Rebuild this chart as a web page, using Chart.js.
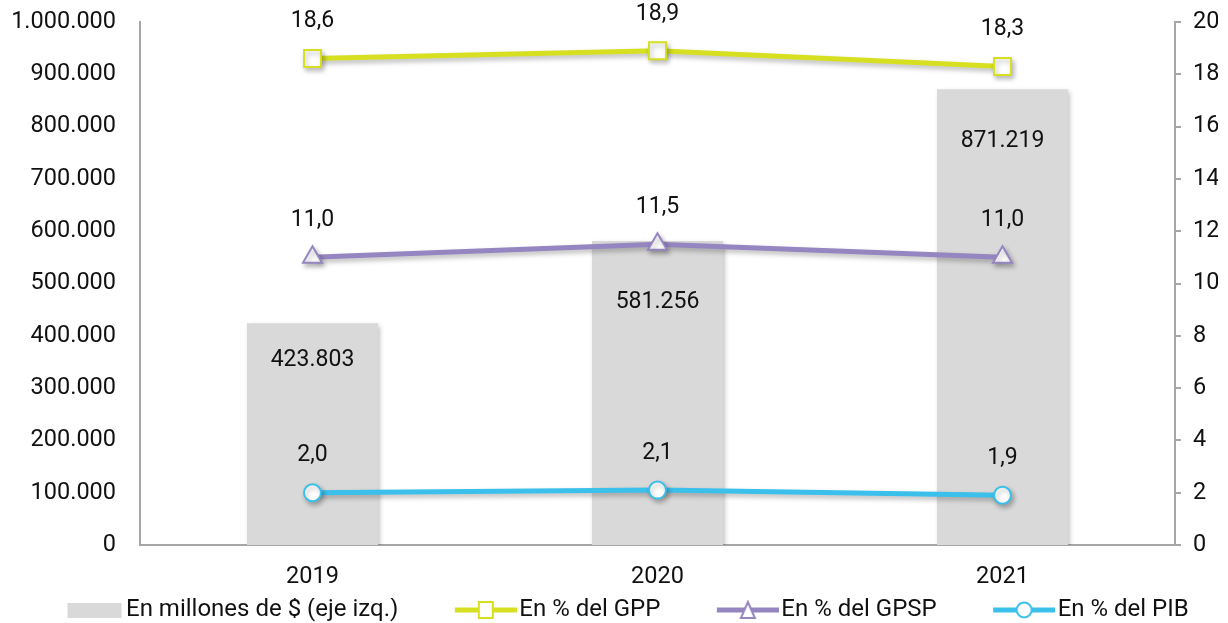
<!DOCTYPE html>
<html>
<head>
<meta charset="utf-8">
<script src="https://cdn.jsdelivr.net/npm/chart.js@4"></script>
<style>
  html, body { margin: 0; padding: 0; background: #fff; }
  #wrap { width: 1228px; height: 623px; position: relative; }
</style>
</head>
<body>
<div id="wrap"><canvas id="chart"></canvas></div>
<script>
  // datos del gráfico
  const years = ["2019", "2020", "2021"];
  const millones = [423803, 581256, 871219];
  const pctGPP = [18.6, 18.9, 18.3];
  const pctGPSP = [11.0, 11.5, 11.0];
  const pctPIB = [2.0, 2.1, 1.9];

  const leftTicks = [0, 100000, 200000, 300000, 400000, 500000, 600000, 700000, 800000, 900000, 1000000];
  const rightTicks = [0, 2, 4, 6, 8, 10, 12, 14, 16, 18, 20];

  const COLOR_BAR = "#d9d9d9";
  const COLOR_GPP = "#d6e021";
  const COLOR_GPSP = "#9585c0";
  const COLOR_PIB = "#3bbfeb";
  const FONT = "Roboto, 'Noto Sans', sans-serif";
  const TEXT = "#111";

  function fmtMiles(v) {
    return String(Math.round(v)).replace(/\B(?=(\d{3})+(?!\d))/g, ".");
  }

  function fmtPct(v) {
    return v.toFixed(1).replace(".", ",");
  }

  // iconos de la leyenda: espacio vacío a la izquierda + línea con marcador
  const LEG_BOX = 109;
  const LEG_CANVAS = LEG_BOX + 19;

  function legendIcon(kind, color) {
    const c = document.createElement("canvas");
    c.width = LEG_CANVAS;
    c.height = 22;
    const g = c.getContext("2d");
    if (kind === "bar") {
      g.fillStyle = color;
      g.fillRect(LEG_CANVAS - 2 - 54, 4, 54, 15);
      return c;
    }
    const x0 = LEG_CANVAS - 62;
    const x1 = LEG_CANVAS;
    const cx = (x0 + x1) / 2;
    g.strokeStyle = color;
    g.lineWidth = 5;
    g.beginPath();
    g.moveTo(x0, 11);
    g.lineTo(x1, 11);
    g.stroke();
    g.fillStyle = "#fff";
    g.lineWidth = 2;
    g.beginPath();
    if (kind === "rect") {
      g.rect(cx - 7, 3, 14, 16);
    } else if (kind === "triangle") {
      g.moveTo(cx, 3);
      g.lineTo(cx + 7, 19);
      g.lineTo(cx - 7, 19);
      g.closePath();
    } else {
      g.arc(cx, 11, 7.5, 0, Math.PI * 2);
    }
    g.fill();
    g.stroke();
    return c;
  }

  const icons = [
    legendIcon("bar", COLOR_BAR),
    legendIcon("rect", COLOR_GPP),
    legendIcon("triangle", COLOR_GPSP),
    legendIcon("circle", COLOR_PIB),
  ];

  // sombra suave para barras y líneas
  const shadowPlugin = {
    id: "shadow",
    beforeDatasetDraw(chart) {
      const ctx = chart.ctx;
      ctx.save();
      ctx.shadowColor = "rgba(0,0,0,0.28)";
      ctx.shadowBlur = 5;
      ctx.shadowOffsetX = 2;
      ctx.shadowOffsetY = 3;
    },
    afterDatasetDraw(chart) {
      chart.ctx.restore();
    },
  };

  // etiquetas de valores
  const barLabelOffsets = [37, 61, 52];
  const lineLabelOffset = 37;

  const valueLabels = {
    id: "valueLabels",
    afterDatasetsDraw(chart) {
      const ctx = chart.ctx;
      ctx.save();
      ctx.font = "23px " + FONT;
      ctx.fillStyle = TEXT;
      ctx.textAlign = "center";
      ctx.textBaseline = "middle";
      chart.data.datasets.forEach((ds, i) => {
        const meta = chart.getDatasetMeta(i);
        meta.data.forEach((el, j) => {
          if (ds.type === "bar") {
            ctx.fillText(fmtMiles(ds.data[j]), el.x, el.y + barLabelOffsets[j]);
          } else {
            ctx.fillText(fmtPct(ds.data[j]), el.x, el.y - lineLabelOffset);
          }
        });
      });
      ctx.restore();
    },
  };

  const lineDefaults = {
    type: "line",
    yAxisID: "y1",
    borderWidth: 5,
    pointBorderWidth: 2,
    pointBackgroundColor: "#fff",
    tension: 0,
    order: 1,
  };

  new Chart(document.getElementById("chart"), {
    data: {
      labels: years,
      datasets: [
        {
          type: "bar",
          label: "En millones de $ (eje izq.)",
          data: millones,
          yAxisID: "y",
          backgroundColor: COLOR_BAR,
          barPercentage: 0.76,
          categoryPercentage: 0.5,
          order: 5,
        },
        Object.assign({}, lineDefaults, {
          label: "En % del GPP",
          data: pctGPP,
          borderColor: COLOR_GPP,
          pointBorderColor: COLOR_GPP,
          pointStyle: "rect",
          pointRadius: 12,
          pointHoverRadius: 12,
        }),
        Object.assign({}, lineDefaults, {
          label: "En % del GPSP",
          data: pctGPSP,
          borderColor: COLOR_GPSP,
          pointBorderColor: COLOR_GPSP,
          pointStyle: "triangle",
          pointRadius: 11,
          pointHoverRadius: 11,
        }),
        Object.assign({}, lineDefaults, {
          label: "En % del PIB",
          data: pctPIB,
          borderColor: COLOR_PIB,
          pointBorderColor: COLOR_PIB,
          pointStyle: "circle",
          pointRadius: 8.5,
          pointHoverRadius: 8.5,
        }),
      ],
    },
    options: {
      responsive: true,
      maintainAspectRatio: false,
      animation: false,
      layout: { padding: { top: 0, bottom: 0, left: 5, right: 10 } },
      plugins: {
        tooltip: { enabled: false },
        legend: {
          position: "bottom",
          align: "start",
          maxHeight: 25,
          labels: {
            usePointStyle: true,
            pointStyleWidth: LEG_BOX,
            padding: 0,
            color: TEXT,
            font: { family: FONT, size: 24 },
            generateLabels(chart) {
              return chart.data.datasets.map((ds, i) => ({
                text: ds.label,
                pointStyle: icons[i],
                fillStyle: "transparent",
                strokeStyle: "transparent",
                fontColor: TEXT,
                lineWidth: 0,
                datasetIndex: i,
                hidden: false,
              }));
            },
          },
        },
      },
      scales: {
        x: {
          offset: true,
          grid: { display: false },
          border: { display: true, color: "#a6a6a6", width: 2 },
          ticks: { color: TEXT, font: { family: FONT, size: 23.5 }, padding: 10 },
          afterFit(scale) {
            scale.height = 53;
          },
        },
        y: {
          position: "left",
          min: 0,
          max: 1000000,
          afterBuildTicks(scale) {
            scale.ticks = leftTicks.map((v) => ({ value: v }));
          },
          grid: { display: false },
          border: { display: true, color: "#a6a6a6", width: 2 },
          ticks: {
            color: TEXT,
            font: { family: FONT, size: 23.5 },
            padding: 16,
            callback: (v) => fmtMiles(v),
          },
          afterFit(scale) {
            scale.width = 135;
            scale.paddingTop = 22;
          },
        },
        y1: {
          position: "right",
          min: 0,
          max: 20,
          afterBuildTicks(scale) {
            scale.ticks = rightTicks.map((v) => ({ value: v }));
          },
          grid: {
            display: true,
            drawOnChartArea: false,
            drawTicks: true,
            tickLength: 6,
            color: "#a6a6a6",
            lineWidth: 2,
          },
          border: { display: true, color: "#a6a6a6", width: 2 },
          ticks: {
            color: TEXT,
            font: { family: FONT, size: 23.5 },
            padding: 12,
            callback: (v) => String(v),
          },
          afterFit(scale) {
            scale.width = 43;
            scale.paddingTop = 22;
          },
        },
      },
    },
    plugins: [shadowPlugin, valueLabels],
  });
</script>
</body>
</html>
